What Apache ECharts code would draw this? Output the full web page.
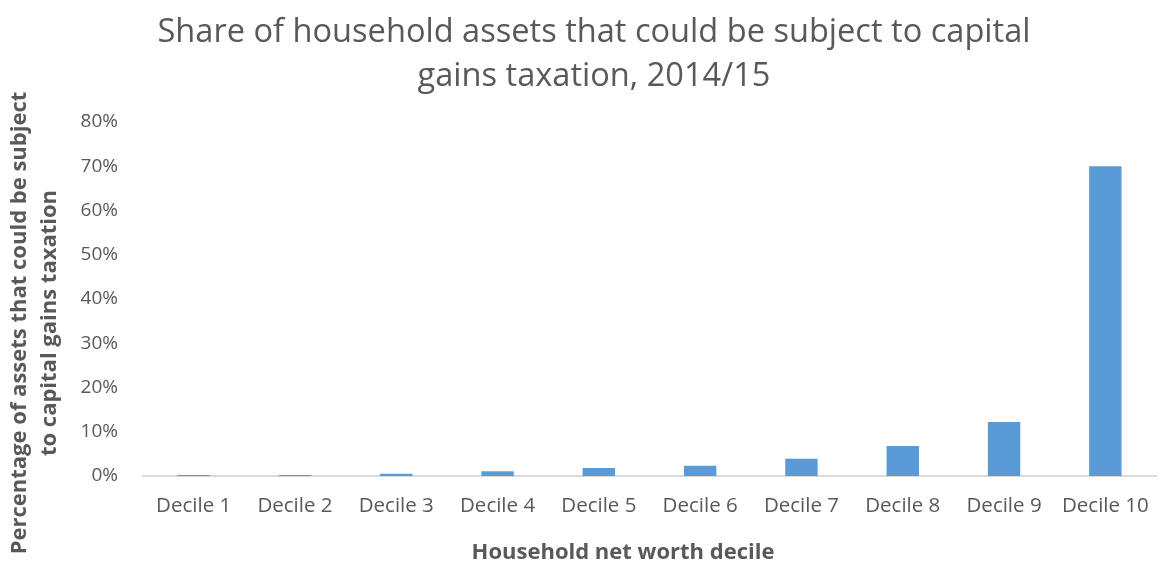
<!DOCTYPE html>
<html>
<head>
<meta charset="utf-8">
<script src="https://cdn.jsdelivr.net/npm/echarts@6/dist/echarts.min.js"></script>
<style>html,body{margin:0;padding:0;background:#fff}#c{width:1166px;height:565px}</style>
</head>
<body>
<div id="c"></div>
<script>
const categories = ['Decile 1','Decile 2','Decile 3','Decile 4','Decile 5','Decile 6','Decile 7','Decile 8','Decile 9','Decile 10'];
const values = [0.2, 0.2, 0.5, 1.1, 1.8, 2.3, 3.9, 6.8, 12.2, 70.0];
const yTicks = [0, 10, 20, 30, 40, 50, 60, 70, 80];
const titleText = 'Share of household assets that could be subject to capital\ngains taxation, 2014/15';
const yName = 'Percentage of assets that could be subject\nto capital gains taxation';
const xName = 'Household net worth decile';

const FONT = '"Open Sans"';
const chart = echarts.init(document.getElementById('c'), null, {renderer: 'canvas'});
chart.setOption({
  animation: false,
  backgroundColor: '#fff',
  title: {
    text: titleText,
    left: 589, top: 6, textAlign: 'center',
    textStyle: {fontFamily: FONT, fontSize: 32.6, fontWeight: 'normal', color: '#595959', lineHeight: 44, align: 'center'}
  },
  grid: {left: 143, right: 10, top: 122, bottom: 89, containLabel: false},
  xAxis: {
    type: 'category', data: categories,
    axisLine: {lineStyle: {color: '#D9D9D9', width: 2}},
    axisTick: {show: false},
    axisLabel: {fontFamily: FONT, fontSize: 20.5, color: '#595959', margin: 20, interval: 0}
  },
  yAxis: {
    type: 'value', min: yTicks[0], max: yTicks[yTicks.length-1], interval: 10,
    splitLine: {show: false},
    axisLine: {show: false}, axisTick: {show: false},
    axisLabel: {fontFamily: FONT, fontSize: 19, color: '#595959', margin: 25, formatter: v => v + '%'}
  },
  series: [{
    type: 'bar', data: values, barWidth: '32%',
    itemStyle: {color: '#5B9BD5'}
  }],
  graphic: [
    {type: 'text', x: 35, y: 323, rotation: Math.PI/2,
     style: {text: yName, font: 'bold 22px ' + FONT, fill: '#595959', align: 'center', verticalAlign: 'middle', lineHeight: 30}},
    {type: 'text', x: 623, y: 553,
     style: {text: xName, font: 'bold 22px ' + FONT, fill: '#595959', align: 'center', verticalAlign: 'middle'}}
  ]
});
</script>
</body>
</html>
